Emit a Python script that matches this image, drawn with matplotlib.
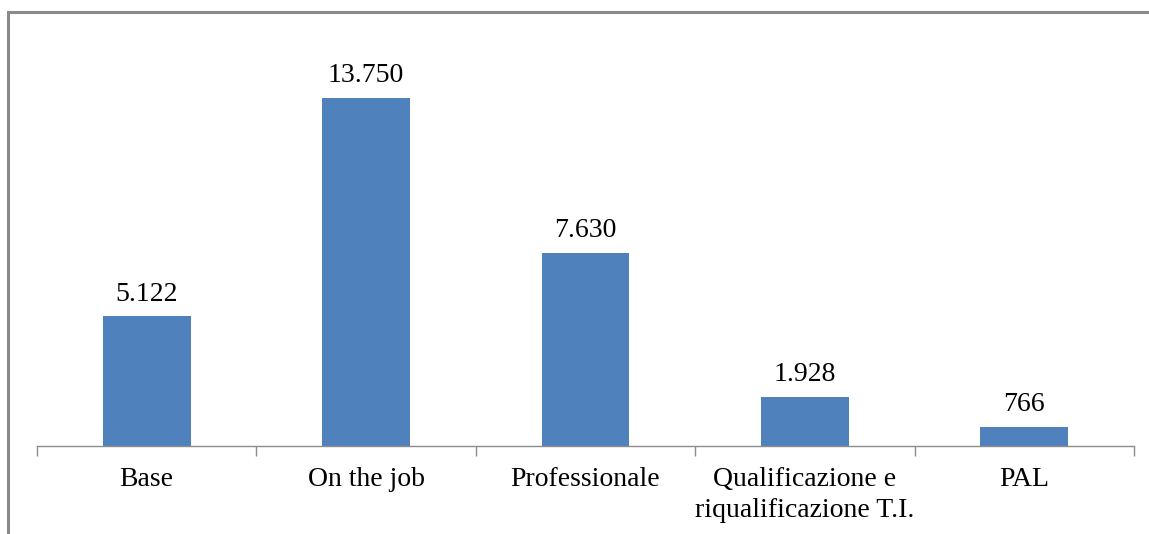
import matplotlib
matplotlib.use("Agg")
import matplotlib.pyplot as plt
from matplotlib.patches import Rectangle

categories = ["Base", "On the job", "Professionale",
              "Qualificazione e\nriqualificazione T.I.", "PAL"]
values = [5122, 13750, 7630, 1928, 766]
value_labels = ["5.122", "13.750", "7.630", "1.928", "766"]

W, H = 1149, 534
fig = plt.figure(figsize=(W / 100, H / 100), dpi=100)
plt.rcParams['font.family'] = ['Liberation Serif', 'DejaVu Serif']

# plot area in pixel coords of the reference
left, right, top, bottom = 37, 1134, 41, 446
ax = fig.add_axes([left / W, (H - bottom) / H, (right - left) / W, (bottom - top) / H])

x = list(range(len(categories)))
ax.bar(x, values, width=0.4, color="#4F81BD")
ax.set_xlim(-0.5, len(categories) - 0.5)
ax.set_ylim(0, 16000)

for xi, v, lab in zip(x, values, value_labels):
    ax.annotate(lab, (xi, v), xytext=(0, 7), textcoords="offset points",
                ha="center", va="bottom", fontsize=20, color="black")

for s in ["top", "right", "left"]:
    ax.spines[s].set_visible(False)
ax.spines["bottom"].set_color("#8c8c8c")
ax.spines["bottom"].set_linewidth(1.0)
ax.set_yticks([])

# boundary ticks
ax.set_xticks([i - 0.5 for i in range(len(categories) + 1)], minor=False)
ax.set_xticklabels([])
ax.tick_params(axis="x", which="major", length=7, color="#8c8c8c", width=1.0, direction="out")
ax.set_xticks(x, minor=True)
ax.set_xticklabels(categories, minor=True, fontsize=20, linespacing=1.33, va="top")
ax.tick_params(axis="x", which="minor", length=0, pad=15)

# outer chart border (only top and left visible)
fig.patches.append(Rectangle((8 / W, -0.1), 1.2, (H - 12) / H + 0.1,
                             transform=fig.transFigure, fill=False,
                             edgecolor="#8a8a8a", linewidth=2.2, clip_on=False))

fig.savefig("out.png", dpi=100, facecolor="white")
